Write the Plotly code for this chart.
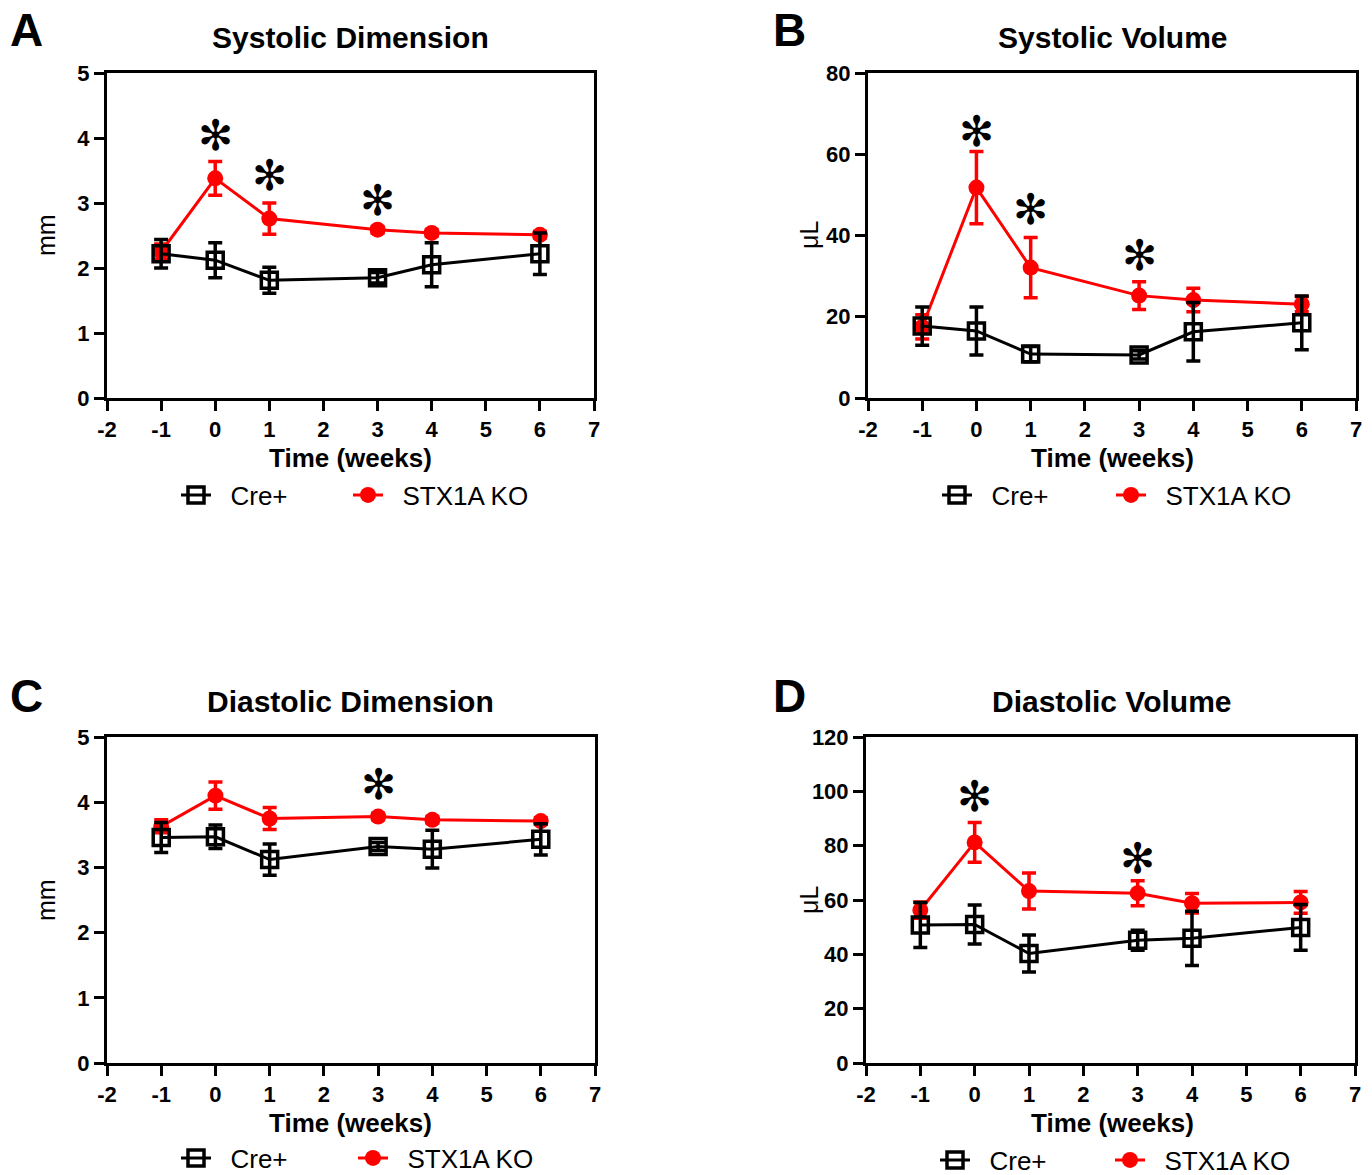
import plotly.graph_objects as go

# ---------------- data ----------------
weeks = [-1, 0, 1, 3, 4, 6]
x_ticks = [-2, -1, 0, 1, 2, 3, 4, 5, 6, 7]

sys_dim_cre = [2.22, 2.12, 1.81, 1.85, 2.05, 2.22]
sys_dim_cre_err = [0.22, 0.27, 0.20, 0.08, 0.34, 0.32]
sys_dim_ko = [2.25, 3.38, 2.76, 2.59, 2.54, 2.51]
sys_dim_ko_err = [0.12, 0.26, 0.24, 0.05, 0.05, 0.05]

sys_vol_cre = [17.7, 16.5, 10.8, 10.6, 16.3, 18.5]
sys_vol_cre_err = [4.7, 5.9, 1.9, 1.0, 7.2, 6.6]
sys_vol_ko = [17.5, 51.8, 32.1, 25.2, 24.1, 23.1]
sys_vol_ko_err = [3.0, 8.9, 7.4, 3.4, 2.9, 1.9]

dia_dim_cre = [3.46, 3.47, 3.12, 3.32, 3.28, 3.43]
dia_dim_cre_err = [0.23, 0.18, 0.24, 0.06, 0.29, 0.24]
dia_dim_ko = [3.63, 4.10, 3.75, 3.78, 3.73, 3.71]
dia_dim_ko_err = [0.10, 0.21, 0.17, 0.05, 0.05, 0.05]

dia_vol_cre = [50.8, 51.0, 40.3, 45.2, 45.9, 49.9]
dia_vol_cre_err = [8.3, 7.2, 6.8, 3.7, 10.0, 8.4]
dia_vol_ko = [56.3, 81.2, 63.3, 62.5, 58.8, 59.1]
dia_vol_ko_err = [3.0, 7.3, 6.6, 4.6, 3.6, 4.0]

# significance markers (week, y position)
star_a_x, star_a_y = [0, 1, 3], [4.04, 3.42, 3.04]
star_b_x, star_b_y = [0, 1, 3], [65.6, 46.3, 35.2]
star_c_x, star_c_y = [3], [4.27]
star_d_x, star_d_y = [0, 3], [98.1, 75.4]

titles = ["Systolic Dimension", "Systolic Volume", "Diastolic Dimension", "Diastolic Volume"]
letters = ["A", "B", "C", "D"]
y_titles = ["mm", "μL", "mm", "μL"]
series_names = ["Cre+", "STX1A KO"]

# ---------------- layout geometry ----------------
W, H = 1372, 1175
FONT = "Liberation Sans, Arial, Helvetica, sans-serif"
RED = "#ff0000"
BLACK = "#000000"
PAD = "\u00a0\u00a0"

panels = [
    dict(x=(107, 594), y=(73, 398), yr=[0, 5], dt=1, cre=sys_dim_cre, cre_e=sys_dim_cre_err,
         ko=sys_dim_ko, ko_e=sys_dim_ko_err, sx=star_a_x, sy=star_a_y,
         leg_cre=176, leg_ko=348, leg_y=495),
    dict(x=(868, 1356), y=(73, 398), yr=[0, 80], dt=20, cre=sys_vol_cre, cre_e=sys_vol_cre_err,
         ko=sys_vol_ko, ko_e=sys_vol_ko_err, sx=star_b_x, sy=star_b_y,
         leg_cre=937, leg_ko=1111, leg_y=495),
    dict(x=(107, 595), y=(737, 1063), yr=[0, 5], dt=1, cre=dia_dim_cre, cre_e=dia_dim_cre_err,
         ko=dia_dim_ko, ko_e=dia_dim_ko_err, sx=star_c_x, sy=star_c_y,
         leg_cre=176, leg_ko=353, leg_y=1158),
    dict(x=(866, 1355), y=(737, 1063), yr=[0, 120], dt=20, cre=dia_vol_cre, cre_e=dia_vol_cre_err,
         ko=dia_vol_ko, ko_e=dia_vol_ko_err, sx=star_d_x, sy=star_d_y,
         leg_cre=935, leg_ko=1110, leg_y=1160),
]
title_pos = [(351, 37), (1113, 37), (351, 701), (1112, 701)]
letter_pos = [(26, 30), (789, 30), (26, 696), (789, 696)]
ytitle_pos = [(46, 235), (809, 235), (46, 900), (809, 900)]
xtitle_pos = [(351, 458), (1112, 458), (351, 1123), (1112, 1123)]

fig = go.Figure()
annotations = []
layout = dict(
    width=W, height=H, margin=dict(l=0, r=0, t=0, b=0, autoexpand=False),
    paper_bgcolor="white", plot_bgcolor="white", showlegend=True,
    font=dict(family=FONT, color=BLACK),
)


def legend_cfg(xpx, ypx):
    return dict(
        orientation="h", x=xpx / W, xanchor="left",
        y=1 - ypx / H, yanchor="middle",
        font=dict(family=FONT, size=26, color=BLACK),
        bgcolor="rgba(0,0,0,0)", visible=True,
    )


for i, p in enumerate(panels):
    k = "" if i == 0 else str(i + 1)
    xa, ya = "x" + k, "y" + k
    leg_c = "legend" + ("" if i == 0 else str(2 * i + 1))
    leg_k = "legend" + str(2 * i + 2)
    # KO first (beneath), then Cre+
    fig.add_trace(go.Scatter(
        x=weeks, y=p["ko"], name=PAD + series_names[1], mode="lines+markers",
        line=dict(color=RED, width=3),
        marker=dict(symbol="circle", size=16, color=RED),
        error_y=dict(type="data", array=p["ko_e"], color=RED, thickness=3.5, width=7),
        xaxis=xa, yaxis=ya, legend=leg_k, showlegend=True, cliponaxis=False,
    ))
    fig.add_trace(go.Scatter(
        x=weeks, y=p["cre"], name=PAD + series_names[0], mode="lines+markers",
        line=dict(color=BLACK, width=3),
        marker=dict(symbol="square-open", size=16, color=BLACK, line=dict(width=3.5, color=BLACK)),
        error_y=dict(type="data", array=p["cre_e"], color=BLACK, thickness=3.5, width=7),
        xaxis=xa, yaxis=ya, legend=leg_c, showlegend=True, cliponaxis=False,
    ))
    x0, x1 = p["x"]
    y0, y1 = p["y"]
    axis_common = dict(
        showline=True, linecolor=BLACK, linewidth=3, mirror=True,
        ticks="outside", ticklen=10, tickwidth=3, tickcolor=BLACK,
        showgrid=False, zeroline=False,
        tickfont=dict(family=FONT, size=22, color=BLACK, weight="bold"),
        fixedrange=True,
    )
    layout["xaxis" + k] = dict(
        axis_common, domain=[x0 / W, x1 / W], range=[-2, 7],
        tickmode="array", tickvals=x_ticks, ticktext=[str(t) for t in x_ticks],
        anchor=ya,
    )
    layout["yaxis" + k] = dict(
        axis_common, domain=[1 - y1 / H, 1 - y0 / H], range=p["yr"],
        tick0=0, dtick=p["dt"], anchor=xa,
    )
    layout[leg_c] = legend_cfg(p["leg_cre"], p["leg_y"])
    layout[leg_k] = legend_cfg(p["leg_ko"], p["leg_y"])
    # stars
    for sx, sy in zip(p["sx"], p["sy"]):
        annotations.append(dict(
            x=sx, y=sy, xref=xa, yref=ya, text="✻", showarrow=False,
            font=dict(family="DejaVu Sans", size=42, color=BLACK),
            xanchor="center", yanchor="middle",
        ))
    # panel title
    tx, ty = title_pos[i]
    annotations.append(dict(x=tx / W, y=1 - ty / H, xref="paper", yref="paper",
                            text="<b>%s</b>" % titles[i], showarrow=False,
                            font=dict(family=FONT, size=30, color=BLACK),
                            xanchor="center", yanchor="middle"))
    lx, ly = letter_pos[i]
    annotations.append(dict(x=lx / W, y=1 - ly / H, xref="paper", yref="paper",
                            text="<b>%s</b>" % letters[i], showarrow=False,
                            font=dict(family=FONT, size=46, color=BLACK),
                            xanchor="center", yanchor="middle"))
    yx, yy = ytitle_pos[i]
    annotations.append(dict(x=yx / W, y=1 - yy / H, xref="paper", yref="paper",
                            text=y_titles[i], showarrow=False, textangle=-90,
                            font=dict(family=FONT, size=25, color=BLACK),
                            xanchor="center", yanchor="middle"))
    xx, xy = xtitle_pos[i]
    annotations.append(dict(x=xx / W, y=1 - xy / H, xref="paper", yref="paper",
                            text="<b>Time (weeks)</b>", showarrow=False,
                            font=dict(family=FONT, size=26, color=BLACK),
                            xanchor="center", yanchor="middle"))

layout["annotations"] = annotations
fig.update_layout(**layout)
fig.write_html("out.html", config={"displayModeBar": False},
               post_script="document.body.style.margin='0px';")
